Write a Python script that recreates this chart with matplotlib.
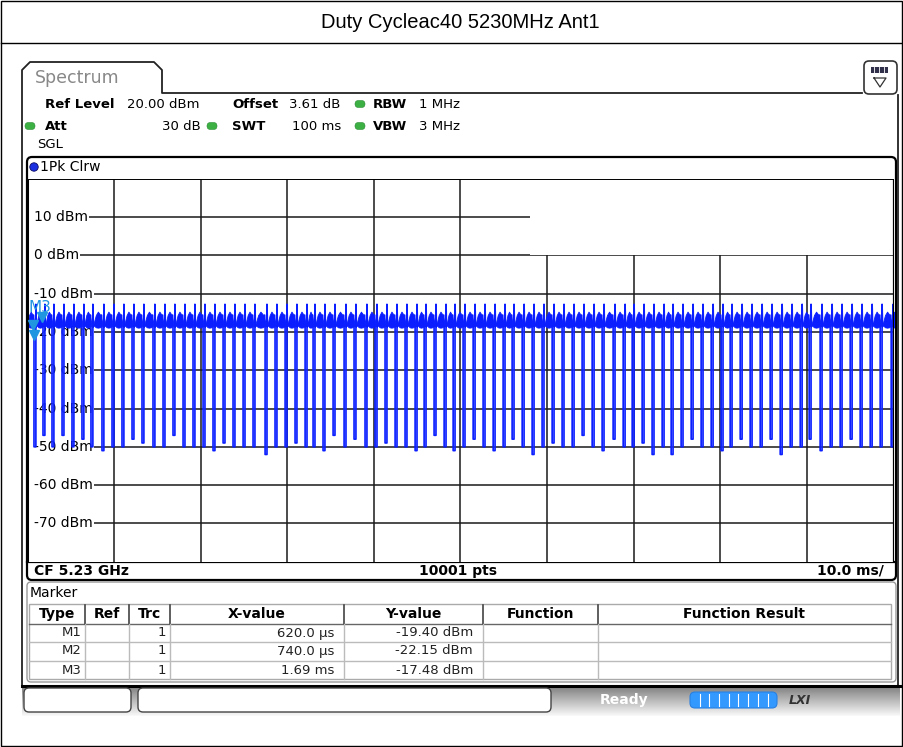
import numpy as np
import matplotlib.pyplot as plt
from matplotlib.patches import FancyBboxPatch, Rectangle, Circle
import matplotlib.transforms as mtransforms

title = "Duty Cycleac40 5230MHz Ant1"
ref_level_db = [20, 10, 0, -10, -20, -30, -40, -50, -60, -70, -80]
sweep_ms = 100.0

# burst gaps (ms) and the level they fall to (dBm)
dip_t = [0.76, 1.80, 2.84, 4.00, 5.15, 6.30, 7.34, 8.61, 9.77, 10.92, 12.08, 13.23,
         14.50, 15.66, 16.81, 17.97, 19.12, 20.28, 21.43, 22.59, 23.74, 24.90, 26.05,
         27.44, 28.59, 29.75, 30.90, 32.06, 32.98, 34.13, 35.29, 36.56, 37.71, 38.98,
         40.14, 41.29, 42.45, 43.60, 44.76, 45.80, 46.95, 48.11, 49.15, 50.30, 51.46,
         52.61, 53.77, 54.92, 55.96, 57.12, 58.27, 59.42, 60.58, 61.73, 62.89, 64.04,
         65.20, 66.35, 67.62, 68.78, 69.82, 70.97, 72.12, 73.28, 74.32, 75.47, 76.63,
         77.78, 78.94, 80.09, 81.13, 82.29, 83.44, 84.60, 85.75, 86.91, 88.06, 89.22,
         90.25, 91.52, 92.68, 93.83, 94.99, 96.14, 97.30, 98.45, 99.72]
dip_lvl = [-50, -47, -50, -47, -50, -48, -50, -51, -50, -50, -48, -49,
           -50, -50, -47, -50, -50, -50, -51, -49, -50, -50, -50,
           -52, -50, -50, -49, -50, -50, -51, -47, -50, -48, -50,
           -50, -49, -50, -50, -51, -50, -47, -50, -51, -50, -48,
           -50, -51, -50, -48, -50, -52, -50, -49, -50, -50, -47,
           -50, -51, -48, -50, -50, -49, -52, -50, -52, -50, -48,
           -50, -50, -51, -50, -48, -50, -50, -48, -52, -50, -50,
           -48, -51, -50, -50, -48, -50, -50, -50, -50]
gap_ms = 0.22
# burst envelope across one burst (start, quarter, middle, three quarters, end)
burst_top = [-17.6, -15.6, -14.7, -15.4, -17.2]
burst_bot = [-18.3, -18.8, -18.9, -18.8, -18.4]
band_lo, band_hi, burst_peak = -18.6, -15.6, -12.8

markers = ["M1", "M2", "M3"]
mk_t = [0.62, 0.74, 1.69]
mk_lvl = [-19.40, -22.15, -17.48]
mk_x_txt = ["620.0 µs", "740.0 µs", "1.69 ms"]
mk_y_txt = ["-19.40 dBm", "-22.15 dBm", "-17.48 dBm"]

BLUE = "#0a1eff"
MKC = "#2196e0"
GRID = "#1a1a1a"
FS = 10

fig = plt.figure(figsize=(9.04, 7.47), dpi=100)
ui = fig.add_axes([0, 0, 1, 1])
ui.set_xlim(0, 904)
ui.set_ylim(747, 0)
ui.axis("off")

# outer frame and title
ui.add_patch(Rectangle((1, 0.5), 901.5, 745.5, fill=False, lw=1, ec="black"))
ui.plot([1, 903], [43, 43], color="black", lw=1)
ui.text(460, 22, title, ha="center", va="center", fontsize=14.5, family="Liberation Sans")

# spectrum tab outline
ui.plot([22, 22, 30, 154, 162, 162, 862], [686, 70, 62, 62, 70, 93, 93], color="#222", lw=1.3)
ui.plot([898, 898], [95, 686], color="#222", lw=1.3)
ui.text(35, 78, "Spectrum", fontsize=12.5, color="#888888", va="center")
ui.add_patch(FancyBboxPatch((864, 61), 33, 33, boxstyle="round,pad=0,rounding_size=5",
                            fc="white", ec="#333", lw=1.2))
ui.add_patch(Rectangle((871, 67), 17, 6, fc="#30304a", ec="none"))
for xv in [874.5, 879.5, 884.5]:
    ui.plot([xv, xv], [67, 73], color="white", lw=0.6)
ui.plot([874, 886, 880, 874], [78, 78, 87, 78], color="#333", lw=0.9)

# setting rows
def dot(x, y, c="#3cb043"):
    ui.add_patch(FancyBboxPatch((x - 5, y - 3.5), 10, 7, boxstyle="round,pad=0,rounding_size=3.5",
                                fc=c, ec="#2a8a35", lw=0.4))

rows = [(104, [(45, "Ref Level", True), (127, "20.00 dBm", False), (232, "Offset", True),
               (289, "3.61 dB", False), (373, "RBW", True), (419, "1 MHz", False)]),
        (126, [(45, "Att", True), (162, "30 dB", False), (232, "SWT", True),
               (292, "100 ms", False), (373, "VBW", True), (419, "3 MHz", False)])]
for y, items in rows:
    for x, s, b in items:
        ui.text(x, y, s, fontsize=9.5, fontweight="bold" if b else "normal", va="center")
dot(360, 104)
dot(30, 126)
dot(212, 126)
dot(360, 126)
ui.text(37, 145, "SGL", fontsize=9.5, va="center")

# plot box
ui.add_patch(FancyBboxPatch((27, 157), 869, 423, boxstyle="round,pad=0,rounding_size=5",
                            fc="white", ec="black", lw=1.6))
ui.add_patch(Circle((34, 167), 4.2, fc="#1a2fe0", ec="#0a0a60", lw=0.6))
ui.text(40, 167, "1Pk Clrw", fontsize=FS, va="center")
ui.plot([27, 896], [562, 562], color="black", lw=1.6)
ui.text(34, 571, "CF 5.23 GHz", fontsize=FS, fontweight="bold", va="center")
ui.text(458, 571, "10001 pts", fontsize=FS, fontweight="bold", va="center", ha="center")
ui.text(884, 571, "10.0 ms/", fontsize=FS, fontweight="bold", va="center", ha="right")

# trace axes
ax = fig.add_axes([27.4 / 904, 1 - 561.7 / 747, 866.2 / 904, 383 / 747])
ax.set_xlim(0, sweep_ms)
ax.set_ylim(-80, 20)
ax.axis("off")
ax.add_patch(Rectangle((0, -80), sweep_ms, 100, fc="white", ec="none", zorder=0))

box_x0 = 58.0  # marker readout area (ms)
labels = []
for lv in ref_level_db[1:-1]:
    labels.append(ax.text(0.75, lv, f"{lv} dBm", fontsize=FS, va="center", ha="left", zorder=2))
fig.canvas.draw()
inv = ax.transData.inverted()
for lv, t in zip(ref_level_db[1:-1], labels):
    x_lab = inv.transform((t.get_window_extent().x1, 0))[0]
    x_end = box_x0 if lv == 10 else sweep_ms
    ax.hlines(lv, x_lab + 0.1, x_end, color=GRID, lw=1.1, zorder=1)
for i in range(1, 10):
    x = i * 10
    ax.vlines(x, -80, 0 if x > box_x0 else 20, color=GRID, lw=1.1, zorder=1)
ax.plot([0, 0], [-80, 20], color="black", lw=2.2, zorder=6)
ax.plot([100, 100], [-80, 20], color="black", lw=1.6, zorder=6)
ax.plot([0, 100], [20, 20], color="black", lw=1.4, zorder=6)

# build trace from the listed gaps
xs, ys = [0.0], [band_lo]
starts = [0.0]
ends = []
for t, lv in zip(dip_t, dip_lvl):
    ends.append(t)
    xs += [t - 0.05, t, t, t + gap_ms, t + gap_ms, t + gap_ms + 0.06]
    ys += [band_hi, band_lo, lv, lv, burst_peak, band_lo]
    starts.append(t + gap_ms + 0.1)
ends.append(sweep_ms)
xs.append(sweep_ms)
ys.append(band_lo)
ax.plot(xs, ys, color=BLUE, lw=1.2, zorder=4)
for s, e in zip(starts, ends):
    bx = [s, s + (e - s) * 0.25, (s + e) / 2, s + (e - s) * 0.75, e]
    ax.fill_between(bx, burst_bot, burst_top, color=BLUE, lw=0.6, ec=BLUE, zorder=4)
for t, lv in zip(dip_t, dip_lvl):
    ax.fill_between([t, t + gap_ms], lv, band_lo, color="#9aa4ff", lw=0, zorder=3, alpha=0.45)

# marker readout
ax.add_patch(Rectangle((box_x0, 0.2), sweep_ms - box_x0, 19.8, fc="white", ec="none", zorder=2))
ui.text(531, 187, "M1[1]", color=MKC, fontsize=FS, fontweight="bold", va="center")
ui.text(531, 227, "M2[1]", color=MKC, fontsize=FS, fontweight="bold", va="center")
for y, s in zip([187, 207, 227, 246], [mk_y_txt[0], "620.00 µs", mk_y_txt[1], "740.00 µs"]):
    ui.text(892, y, s, color=MKC, fontsize=FS, fontweight="bold", va="center", ha="right")

above = mtransforms.offset_copy(ax.transData, fig=fig, y=5, units="dots")
ax.plot(mk_t, mk_lvl, "v", ms=7, color=MKC, transform=above, zorder=7, clip_on=False)
ax.text(mk_t[2] - 0.3, mk_lvl[2] + 3.8, markers[2], color=MKC, fontsize=11, ha="center",
        va="center", zorder=7)

# marker table
ui.add_patch(FancyBboxPatch((27, 582), 869, 100, boxstyle="round,pad=0,rounding_size=4",
                            fc="white", ec="#999", lw=1))
ui.text(30, 593, "Marker", fontsize=FS, va="center")
cols = [29, 85, 129, 170, 344, 483, 598, 891]
ui.add_patch(Rectangle((29, 604), 862, 75, fill=False, ec="#aaa", lw=1))
for yy in [642, 661]:
    ui.plot([29, 891], [yy, yy], color="#bbb", lw=1)
ui.plot([29, 891], [624, 624], color="#666", lw=1)
for c in cols[1:-1]:
    ui.plot([c, c], [605, 624], color="#333", lw=1.1)
    ui.plot([c, c], [624, 679], color="#bbb", lw=1)
heads = ["Type", "Ref", "Trc", "X-value", "Y-value", "Function", "Function Result"]
for i, h in enumerate(heads):
    ui.text((cols[i] + cols[i + 1]) / 2, 614, h, fontsize=FS, fontweight="bold", ha="center", va="center")
for r, y in enumerate([633, 651, 670]):
    ui.text(cols[1] - 3, y, markers[r], fontsize=9.5, ha="right", va="center", color="#222")
    ui.text(cols[3] - 4, y, "1", fontsize=9.5, ha="right", va="center", color="#222")
    ui.text(cols[4] - 10, y, mk_x_txt[r], fontsize=9.5, ha="right", va="center", color="#222")
    ui.text(cols[5] - 10, y, mk_y_txt[r], fontsize=9.5, ha="right", va="center", color="#222")

# status bar
grad = np.linspace(0.5, 0.97, 30).reshape(-1, 1)
ui.imshow(grad, cmap="gray", vmin=0, vmax=1, extent=(22, 900, 716, 686), aspect="auto", zorder=1)
ui.plot([22, 900], [686, 686], color="black", lw=2.2, zorder=2)
ui.add_patch(FancyBboxPatch((24, 688), 107, 24, boxstyle="round,pad=0,rounding_size=5",
                            fc="white", ec="#444", lw=1, zorder=3))
ui.add_patch(FancyBboxPatch((138, 688), 413, 24, boxstyle="round,pad=0,rounding_size=5",
                            fc="white", ec="#444", lw=1, zorder=3))
ui.text(600, 700, "Ready", fontsize=FS, color="white", fontweight="bold", va="center", zorder=3)
ui.add_patch(FancyBboxPatch((690, 692), 87, 16, boxstyle="round,pad=0,rounding_size=5",
                            fc="#3399ff", ec="#2a80e0", lw=0.8, zorder=3))
for k in range(1, 9):
    ui.plot([690 + k * 9.7, 690 + k * 9.7], [694, 706], color="white", lw=0.8, zorder=4)
ui.text(800, 700, "LXI", fontsize=9, color="#333", fontweight="bold", fontstyle="italic",
        ha="center", va="center", zorder=3)

fig.savefig("out.png", dpi=100)
